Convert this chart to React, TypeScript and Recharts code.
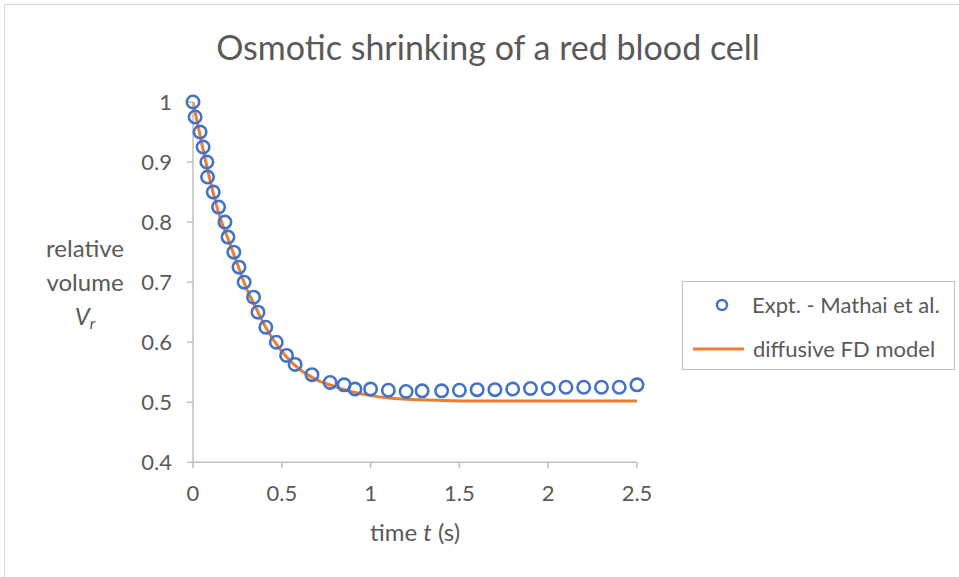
import { ComposedChart, Line, Scatter, XAxis, YAxis } from "recharts";

const exptTime = [
  0, 0.012, 0.04, 0.057, 0.078, 0.082, 0.114, 0.144, 0.18, 0.197, 0.23, 0.259,
  0.288, 0.341, 0.366, 0.41, 0.469, 0.527, 0.575, 0.67, 0.772, 0.851, 0.912,
  1.0, 1.1, 1.2, 1.29, 1.4, 1.5, 1.6, 1.7, 1.8, 1.9, 2.0, 2.1, 2.2, 2.3, 2.4, 2.5,
];
const exptVolume = [
  1.0, 0.975, 0.95, 0.925, 0.9, 0.875, 0.85, 0.825, 0.8, 0.775, 0.75, 0.725,
  0.7, 0.675, 0.65, 0.625, 0.6, 0.578, 0.563, 0.546, 0.533, 0.529, 0.522,
  0.522, 0.52, 0.518, 0.519, 0.519, 0.52, 0.521, 0.521, 0.522, 0.523, 0.523,
  0.525, 0.525, 0.525, 0.525, 0.529,
];

// Diffusive FD model curve
const modelTime = [
  0, 0.05, 0.1, 0.15, 0.2, 0.25, 0.3, 0.35, 0.4, 0.45, 0.5, 0.55, 0.6, 0.7,
  0.8, 0.9, 1.0, 1.1, 1.2, 1.4, 1.6, 2.0, 2.5,
];
const modelVolume = [
  1.0, 0.93, 0.865, 0.81, 0.77, 0.73, 0.69, 0.66, 0.63, 0.605, 0.585, 0.568,
  0.555, 0.537, 0.526, 0.517, 0.511, 0.507, 0.505, 0.503, 0.502, 0.502, 0.502,
];

const xTicks = [0, 0.5, 1, 1.5, 2, 2.5];
const yTicks = [0.4, 0.5, 0.6, 0.7, 0.8, 0.9, 1];

const expt = exptTime.map((t, i) => ({ t, v: exptVolume[i] }));
const model = modelTime.map((t, i) => ({ t, v: modelVolume[i] }));

const TEXT = "#595959";
const AXIS = "#bfbfbf";
const BLUE = "#4472c4";
const ORANGE = "#ed7d31";
const FONT = "Lato, 'Open Sans', sans-serif";

function Ring(props: any) {
  const { cx, cy } = props;
  if (cx == null || cy == null) return null;
  return <circle cx={cx} cy={cy} r={6.2} fill="none" stroke={BLUE} strokeWidth={2.6} />;
}

export default function App() {
  return (
    <div
      style={{
        position: "absolute",
        left: 0,
        top: 0,
        width: 959,
        height: 577,
        overflow: "hidden",
        background: "#fff",
        fontFamily: FONT,
      }}
    >
      <div
        style={{
          position: "absolute",
          left: 4,
          top: 4,
          width: 1000,
          height: 1000,
          border: "1.5px solid #d9d9d9",
        }}
      />
      <div
        style={{
          position: "absolute",
          left: 0,
          width: 976,
          top: 27,
          textAlign: "center",
          fontSize: 34,
          color: TEXT,
          lineHeight: "40px",
        }}
      >
        Osmotic shrinking of a red blood cell
      </div>

      <ComposedChart
        width={959}
        height={577}
        margin={{ top: 102, right: 322, bottom: 0, left: 0 }}
        style={{ position: "absolute", left: 0, top: 0 }}
      >
        <XAxis
          dataKey="t"
          type="number"
          domain={[0, 2.5]}
          ticks={xTicks}
          height={114.7}
          stroke={AXIS}
          strokeWidth={1.5}
          tickSize={6}
          tickMargin={17}
          tick={{ fill: TEXT, fontSize: 22, fontFamily: FONT }}
          label={{
            content: (p: any) => {
              const vb = p.viewBox || {};
              const cx = (vb.x ?? 193) + (vb.width ?? 444) / 2;
              return (
                <text
                  x={cx}
                  y={541}
                  textAnchor="middle"
                  fill={TEXT}
                  fontSize={24}
                  fontFamily={FONT}
                >
                  time <tspan fontStyle="italic">t</tspan> (s)
                </text>
              );
            },
          }}
        />
        <YAxis
          dataKey="v"
          type="number"
          domain={[0.4, 1]}
          ticks={yTicks}
          width={193}
          stroke={AXIS}
          strokeWidth={1.5}
          tickSize={6}
          tickMargin={15}
          tick={{ fill: TEXT, fontSize: 22, fontFamily: FONT }}
        />
        <Line
          data={model}
          dataKey="v"
          type="monotone"
          stroke={ORANGE}
          strokeWidth={3}
          dot={false}
          activeDot={false}
          isAnimationActive={false}
        />
        <Scatter data={expt} dataKey="v" shape={Ring} isAnimationActive={false} />
      </ComposedChart>

      {/* y-axis title */}
      <div
        style={{
          position: "absolute",
          left: 35,
          width: 100,
          top: 231,
          textAlign: "center",
          fontSize: 24,
          color: TEXT,
          lineHeight: "34px",
        }}
      >
        <div>relative</div>
        <div>volume</div>
        <div style={{ fontStyle: "italic" }}>
          V<sub style={{ fontSize: 16, verticalAlign: -4 }}>r</sub>
        </div>
      </div>

      {/* legend */}
      <div
        style={{
          position: "absolute",
          left: 682,
          top: 281,
          width: 271,
          height: 87,
          border: "1.5px solid " + AXIS,
          color: TEXT,
          fontSize: 22,
        }}
      >
        <svg width={271} height={87} style={{ position: "absolute", left: 0, top: 0 }}>
          <circle cx={39} cy={23} r={5} fill="none" stroke={BLUE} strokeWidth={2.4} />
          <line x1={10} x2={61} y1={67} y2={67} stroke={ORANGE} strokeWidth={3} />
        </svg>
        <div style={{ position: "absolute", left: 69, top: 9, lineHeight: "28px", whiteSpace: "nowrap" }}>
          Expt. - Mathai et al.
        </div>
        <div style={{ position: "absolute", left: 70, top: 53, lineHeight: "28px", whiteSpace: "nowrap" }}>
          diffusive FD model
        </div>
      </div>
    </div>
  );
}
